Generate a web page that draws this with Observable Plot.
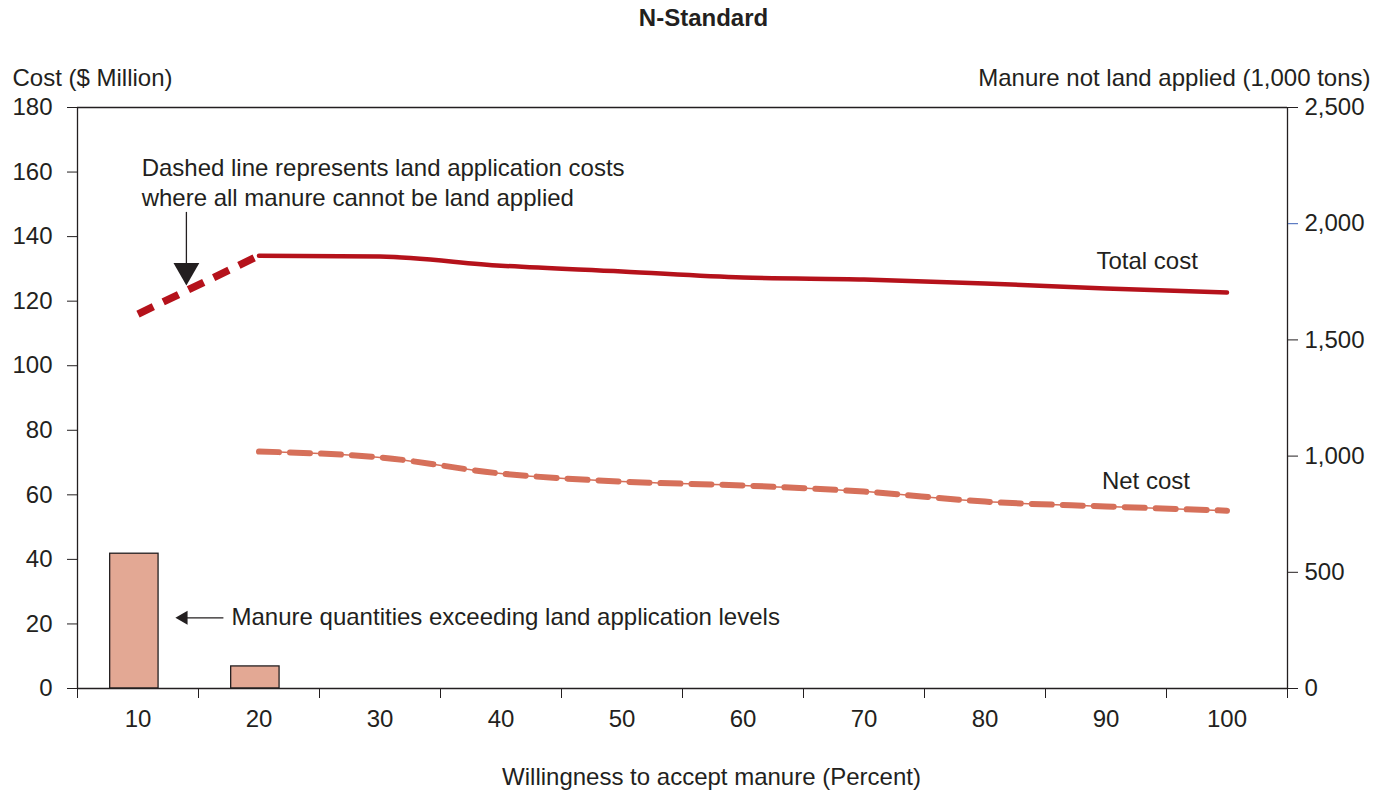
<!DOCTYPE html>
<html><head><meta charset="utf-8">
<script src="https://cdn.jsdelivr.net/npm/d3@7"></script>
<script src="https://cdn.jsdelivr.net/npm/@observablehq/plot@0.6"></script>
<style>body{margin:0;background:#fff;} svg{display:block}</style>
</head><body><div id="chart"></div>
<script>
// ---- data ----
const pct = [10, 20, 30, 40, 50, 60, 70, 80, 90, 100];
const totalCost = [116, 134.1, 133.8, 131.0, 129.2, 127.3, 126.7, 125.5, 123.9, 122.7];
const netCost = [null, 73.4, 71.6, 66.6, 64.1, 62.9, 61.0, 57.9, 56.4, 55.1];
const manurePct = [10, 20];
const manureTons = [580, 95];            // 1,000 tons (right axis)
const leftTicks = [0, 20, 40, 60, 80, 100, 120, 140, 160, 180];
const rightTicks = [0, 500, 1000, 1500, 2000, 2500];
const xBoundaries = [5, 15, 25, 35, 45, 55, 65, 75, 85, 95, 105];

const title = "N-Standard";
const yLabelLeft = "Cost ($ Million)";
const yLabelRight = "Manure not land applied (1,000 tons)";
const xLabel = "Willingness to accept manure (Percent)";
const noteDashed = "Dashed line represents land application costs\nwhere all manure cannot be land applied";
const noteBars = "Manure quantities exceeding land application levels";

// ---- derived tables ----
const k = 180 / 2500; // right-axis units -> left-axis units
const bars = manurePct.map((p, i) => ({x1: p - 2.3, x2: p + 1.7, y: manureTons[i] * k}));
const totalRows = pct.map((p, i) => ({x: p, y: totalCost[i]}));
const totalDashed = totalRows.filter(d => d.x <= 20);
const totalSolid = totalRows.filter(d => d.x >= 20);
const netRows = pct.map((p, i) => ({x: p, y: netCost[i]})).filter(d => d.y != null);

const ink = "#231f20";
const red = "#b5121b";
const salmon = "#d6705a";
const FS = 24;

const chart = Plot.plot({
  width: 1390,
  height: 795,
  marginLeft: 77,
  marginRight: 103,
  marginTop: 107,
  marginBottom: 107,
  style: {fontFamily: "'Liberation Sans', Arial, sans-serif", fontSize: FS + "px", color: ink, background: "#fff"},
  x: {domain: [5, 105]},
  y: {domain: [0, 180]},
  marks: [
    // bars (manure not land applied)
    Plot.rectY(bars, {x1: "x1", x2: "x2", y1: 0, y2: "y", fill: "#e3a894", stroke: ink, strokeWidth: 1.3}),
    // frame lines
    Plot.ruleY([0, 180], {stroke: ink, strokeWidth: 1.3}),
    Plot.ruleX([5, 105], {stroke: ink, strokeWidth: 1.3}),
    // axes
    Plot.axisY(leftTicks, {anchor: "left", tickSize: 10, tickPadding: 15, label: null, color: ink, fontSize: FS}),
    Plot.axisY(rightTicks.filter(v => v !== 2000).map(v => v * k), {anchor: "right", tickSize: 10, tickPadding: 7, label: null, color: ink, fontSize: FS,
      tickFormat: d => d3.format(",")(Math.round(d / k))}),
    Plot.axisY([2000 * k], {anchor: "right", tickSize: 10, tickPadding: 7, label: null, stroke: "#3b5fb5", fill: ink, fontSize: FS,
      tickFormat: d => d3.format(",")(Math.round(d / k))}),
    Plot.axisX(xBoundaries, {anchor: "bottom", tickSize: 10, tickFormat: () => "", label: null, color: ink}),
    Plot.axisX(pct, {anchor: "bottom", tickSize: 0, tickPadding: 21, label: null, color: ink, fontSize: FS}),
    // total cost
    Plot.line(totalDashed, {x: "x", y: "y", stroke: red, strokeWidth: 7.5, strokeDasharray: "17,11", strokeLinecap: "butt"}),
    Plot.line(totalSolid, {x: "x", y: "y", stroke: red, strokeWidth: 4.5, curve: "monotone-x"}),
    // net cost
    Plot.line(netRows, {x: "x", y: "y", stroke: salmon, strokeWidth: 1.5, curve: "monotone-x"}),
    Plot.line(netRows, {x: "x", y: "y", stroke: salmon, strokeWidth: 6, strokeDasharray: "20,11", strokeLinecap: "round", curve: "monotone-x"}),
    // series labels
    Plot.text([{x: 93.4, y: 132.3, t: "Total cost"}], {x: "x", y: "y", text: "t", fill: ink, fontSize: FS}),
    Plot.text([{x: 93.3, y: 64.1, t: "Net cost"}], {x: "x", y: "y", text: "t", fill: ink, fontSize: FS}),
    // annotation: dashed line note
    Plot.text([{x: 10.3, y: 157.0, t: noteDashed}], {x: "x", y: "y", text: "t", textAnchor: "start", lineHeight: 1.22, fill: ink, fontSize: FS}),
    Plot.ruleX([{x: 14.0, y1: 129.5, y2: 147.5}], {x: "x", y1: "y1", y2: "y2", stroke: ink, strokeWidth: 1.3}),
    Plot.dot([{x: 14.0, y: 129.5}], {x: "x", y: "y", symbol: "triangle", r: 9.6, fill: ink, stroke: null, rotate: 180}),
    // annotation: bars note
    Plot.ruleY([{y: 21.9, x1: 13.76, x2: 17.1}], {y: "y", x1: "x1", x2: "x2", stroke: ink, strokeWidth: 1.3}),
    Plot.dot([{x: 13.76, y: 21.9}], {x: "x", y: "y", symbol: "triangle", r: 5.2, fill: ink, stroke: null, rotate: -90}),
    Plot.text([{x: 17.73, y: 21.9, t: noteBars}], {x: "x", y: "y", text: "t", textAnchor: "start", fill: ink, fontSize: FS}),
    // titles
    Plot.text([title], {frameAnchor: "top", lineAnchor: "middle", dx: 21, dy: -89, fontWeight: "bold", fill: ink, fontSize: FS}),
    Plot.text([yLabelLeft], {frameAnchor: "top-left", lineAnchor: "middle", textAnchor: "start", dx: -65, dy: -29, fill: ink, fontSize: FS}),
    Plot.text([yLabelRight], {frameAnchor: "top-right", lineAnchor: "middle", textAnchor: "end", dx: 83, dy: -29, fill: ink, fontSize: FS}),
    Plot.text([xLabel], {frameAnchor: "bottom", lineAnchor: "middle", dx: 29, dy: 89, fill: ink, fontSize: FS})
  ]
});
document.getElementById("chart").append(chart);
</script>
</body></html>
